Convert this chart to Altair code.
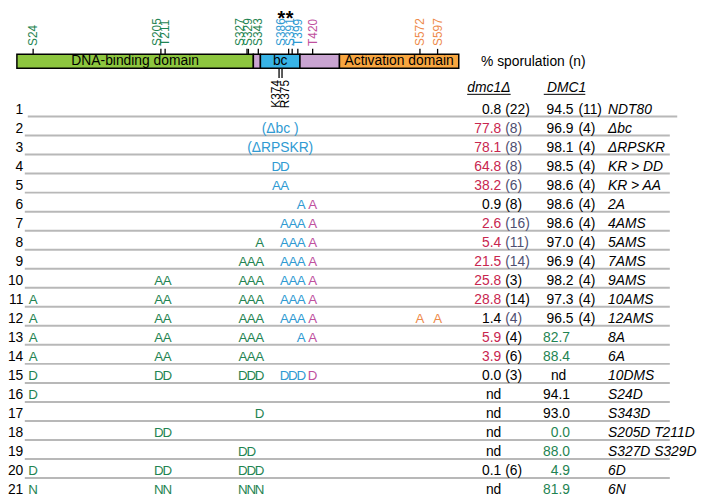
import altair as alt
import pandas as pd
import numpy as np

# ---------------- data ----------------
row_ids = list(range(1, 22))
genotypes = ["NDT80", "Δbc", "ΔRPSKR", "KR > DD", "KR > AA", "2A", "4AMS", "5AMS",
             "7AMS", "9AMS", "10AMS", "12AMS", "8A", "6A", "10DMS", "S24D", "S343D",
             "S205D T211D", "S327D S329D", "6D", "6N"]
dmc1_pct = ["0.8", "77.8", "78.1", "64.8", "38.2", "0.9", "2.6", "5.4", "21.5", "25.8", "28.8",
            "1.4", "5.9", "3.9", "0.0", "nd", "nd", "nd", "nd", "0.1", "nd"]
dmc1_n = ["22", "8", "8", "8", "6", "8", "16", "11", "14", "3", "14", "4", "4", "6", "3",
          "", "", "", "", "6", ""]
dmc1_high = [0, 1, 1, 1, 1, 0, 1, 1, 1, 1, 1, 0, 1, 1, 0, 0, 0, 0, 0, 0, 0]
dmc1_n_tone = [0, 1, 1, 1, 1, 0, 1, 1, 1, 0, 0, 1, 0, 0, 0, 0, 0, 0, 0, 0, 0]
DMC1_pct = ["94.5", "96.9", "98.1", "98.5", "98.6", "98.6", "98.6", "97.0", "96.9", "98.2", "97.3",
            "96.5", "82.7", "88.4", "nd", "94.1", "93.0", "0.0", "88.0", "4.9", "81.9"]
DMC1_n = ["11", "4", "4", "4", "4", "4", "4", "4", "4", "4", "4", "4",
          "", "", "", "", "", "", "", "", ""]
DMC1_low = [0, 0, 0, 0, 0, 0, 0, 0, 0, 0, 0, 0, 1, 1, 0, 0, 0, 1, 1, 1, 1]

sites = ["S24", "S205", "T211", "S327", "S329", "S343", "K374", "R375",
         "S386", "S391", "T399", "T420", "S572", "S597"]
site_res = [24, 205, 211, 327, 329, 343, 374, 375, 386, 391, 399, 420, 572, 597]
site_group = [0, 1, 1, 2, 2, 2, 3, 3, 4, 4, 4, 5, 6, 7]
site_region = ["dbd"] * 6 + ["basic"] * 2 + ["bc"] * 3 + ["link"] + ["ad"] * 2
starred = ["S386", "S391"]

# one character per site (order of `sites`), "-" = wild type
mutations = [
    "--------------", "--------------", "--------------",
    "------DD------", "------AA------", "----------AA--",
    "--------AAAA--", "-----A--AAAA--", "---AAA--AAAA--",
    "-AAAAA--AAAA--", "AAAAAA--AAAA--", "AAAAAA--AAAAAA",
    "AAAAAA----AA--", "AAAAAA--------", "DDDDDD--DDDD--",
    "D-------------", "-----D--------", "-DD-----------",
    "---DD---------", "DDDDDD--------", "NNNNNN--------",
]
deletion_rows = [2, 3]
deletion_text = ["(Δbc )", "(ΔRPSKR)"]

domain_name = ["DNA-binding domain", "", "bc", "", "Activation domain"]
domain_start = [1, 336, 346, 402, 458]
domain_end = [336, 346, 402, 458, 627]
domain_kind = ["dbd", "link", "bc", "link", "ad"]

# ---------------- styles ----------------
FONT = "Liberation Sans"
TEXT_COL = {"dbd": "#1F8452", "bc": "#2F9AD2", "basic": "#2F9AD2", "link": "#C0509E", "ad": "#EE8A4A"}
FILL_COL = {"dbd": "#8DC63F", "link": "#C9A4D1", "bc": "#38B3E6", "ad": "#F8A640"}
RED = "#C8264F"
SLATE = "#4E4E70"
GREEN_V = "#1F8452"
LINE = "#B8B8B8"
PX_PER_RES = 447 / 626.0
LETTER_GAP = 8.5 / PX_PER_RES
LABEL_GAP = 8.3 / PX_PER_RES

X = alt.Scale(domain=[1, 627], range=[9, 456])
Y = alt.Scale(domain=[1, 21], range=[100, 485])

# ---------------- tables ----------------
rows = pd.DataFrame({
    "row": row_ids, "geno": genotypes,
    "d_pct": dmc1_pct, "d_n": dmc1_n, "d_hi": dmc1_high, "d_tone": dmc1_n_tone,
    "D_pct": DMC1_pct, "D_n": DMC1_n, "D_lo": DMC1_low,
})
rows["d_col"] = np.where(rows.d_hi == 1, RED, "black")
rows["d_ncol"] = np.where(rows.d_tone == 1, SLATE, "black")
rows["d_ntxt"] = [f"({s})" if s else "" for s in rows.d_n]
rows["D_col"] = np.where(rows.D_lo == 1, GREEN_V, "black")
rows["D_ntxt"] = [f"({s})" if s else "" for s in rows.D_n]
rows["D_kind"] = ["n" if n else ("nd" if p == "nd" else "v") for p, n in zip(rows.D_pct, rows.D_n)]

lines = pd.DataFrame({"row": row_ids[:-1]})
lines["yl"] = lines.row + 0.36

site_df = pd.DataFrame({"site": sites, "res": site_res, "group": site_group, "region": site_region})
site_df["tcol"] = site_df.region.map(TEXT_COL)
site_df["star"] = site_df.site.isin(starred)

# label positions: keep rotated labels from overlapping (right to left)
top = site_df[site_df.region != "basic"].copy().reset_index(drop=True)
lab = list(top.res.astype(float))
for i in range(len(lab) - 2, -1, -1):
    lab[i] = min(lab[i], lab[i + 1] - LABEL_GAP)
top["lab"] = lab

basic = site_df[site_df.region == "basic"].copy().reset_index(drop=True)
ctr = basic.res.mean()
basic["tick"] = ctr + (basic.index - 0.5) * (3.0 / PX_PER_RES)
basic["lab"] = ctr + (basic.index - 0.5) * (9.4 / PX_PER_RES)

# mutation letters
gsize = site_df.groupby("group").res.transform("size")
gmean = site_df.groupby("group").res.transform("mean")
slot = site_df.groupby("group").cumcount()
site_df["lx"] = gmean + (slot - (gsize - 1) / 2) * LETTER_GAP
recs = []
for r, s in zip(row_ids, mutations):
    for i, ch in enumerate(s):
        if ch != "-":
            recs.append({"row": r, "letter": ch, "x": site_df.lx[i], "col": site_df.tcol[i]})
letters = pd.DataFrame(recs)

dels = pd.DataFrame({"row": deletion_rows, "txt": deletion_text})
dels["x"] = (domain_start[2] + domain_end[2]) / 2

dom = pd.DataFrame({"name": domain_name, "start": domain_start, "end": domain_end, "kind": domain_kind})
dom["fill"] = dom.kind.map(FILL_COL)
dom["mid"] = (dom.start + dom.end) / 2

# ---------------- marks ----------------
def yrow():
    return alt.Y("row:Q", scale=Y, axis=None)

sep_first = alt.Chart(lines[lines.row == 1]).mark_rule(color=LINE, strokeWidth=2).encode(
    x=alt.value(20), x2=alt.value(677), y=alt.Y("yl:Q", scale=Y, axis=None))
sep_rest = alt.Chart(lines[lines.row > 1]).mark_rule(color=LINE, strokeWidth=2).encode(
    x=alt.value(17), x2=alt.value(669.5), y=alt.Y("yl:Q", scale=Y, axis=None))

bar = alt.Chart(dom).mark_rect(stroke="black", strokeWidth=1.5).encode(
    x=alt.X("start:Q", scale=X, axis=None), x2="end:Q",
    y=alt.value(44), y2=alt.value(58),
    fill=alt.Fill("fill:N", scale=None))
bar_txt = alt.Chart(dom[dom.name != ""]).mark_text(font=FONT, fontSize=14, color="black").encode(
    x=alt.X("mid:Q", scale=X), y=alt.value(51), text="name:N")

ticks = alt.Chart(top).mark_rule(color="black", strokeWidth=1.3).encode(
    x=alt.X("res:Q", scale=X), y=alt.value(38.5), y2=alt.value(44))
tick_lab = alt.Chart(top).mark_text(font=FONT, fontSize=12, angle=270, align="left",
                                    baseline="middle").encode(
    x=alt.X("lab:Q", scale=X), y=alt.value(35.5), text="site:N",
    color=alt.Color("tcol:N", scale=None))
stars = alt.Chart(top[top.star]).mark_text(font=FONT, fontSize=20, fontWeight="bold",
                                           baseline="alphabetic", color="black").encode(
    x=alt.X("lab:Q", scale=X), y=alt.value(14.5), text=alt.value("*"))

bticks = alt.Chart(basic).mark_rule(color="black", strokeWidth=1.3).encode(
    x=alt.X("tick:Q", scale=X), y=alt.value(58), y2=alt.value(68))
blab = alt.Chart(basic).mark_text(font=FONT, fontSize=12, angle=270, align="right",
                                  baseline="middle", color="black").encode(
    x=alt.X("lab:Q", scale=X), y=alt.value(70), text="site:N")

hdr = pd.DataFrame({"t": ["% sporulation (n)"]})
h1 = alt.Chart(hdr).mark_text(font=FONT, fontSize=14, align="left", color="black").encode(
    x=alt.value(478.5), y=alt.value(52), text="t:N")
h2 = alt.Chart(pd.DataFrame({"t": ["dmc1Δ"]})).mark_text(
    font=FONT, fontSize=14, fontStyle="italic", color="black").encode(
    x=alt.value(486.5), y=alt.value(78), text="t:N")
h3 = alt.Chart(pd.DataFrame({"t": ["DMC1"]})).mark_text(
    font=FONT, fontSize=14, fontStyle="italic", color="black").encode(
    x=alt.value(565), y=alt.value(78), text="t:N")
ul1 = alt.Chart(hdr).mark_rule(color="black", strokeWidth=1).encode(
    x=alt.value(464.5), x2=alt.value(508.5), y=alt.value(84.5))
ul2 = alt.Chart(hdr).mark_rule(color="black", strokeWidth=1).encode(
    x=alt.value(542), x2=alt.value(584), y=alt.value(84.5))

rnum = alt.Chart(rows).mark_text(font=FONT, fontSize=14, align="right", color="black").encode(
    x=alt.value(15.5), y=yrow(), text="row:N")

let = alt.Chart(letters).mark_text(font=FONT, fontSize=13.5).encode(
    x=alt.X("x:Q", scale=X), y=yrow(), text="letter:N", color=alt.Color("col:N", scale=None))
dl = alt.Chart(dels).mark_text(font=FONT, fontSize=14, color=TEXT_COL["bc"]).encode(
    x=alt.X("x:Q", scale=X), y=yrow(), text="txt:N")

dval = alt.Chart(rows).mark_text(font=FONT, fontSize=14, align="right").encode(
    x=alt.value(499), y=yrow(), text="d_pct:N", color=alt.Color("d_col:N", scale=None))
dn = alt.Chart(rows).mark_text(font=FONT, fontSize=14, align="left").encode(
    x=alt.value(503), y=yrow(), text="d_ntxt:N", color=alt.Color("d_ncol:N", scale=None))

Dv1 = alt.Chart(rows).transform_filter("datum.D_kind == 'n'").mark_text(
    font=FONT, fontSize=14, align="right").encode(
    x=alt.value(572), y=yrow(), text="D_pct:N", color=alt.Color("D_col:N", scale=None))
Dv2 = alt.Chart(rows).transform_filter("datum.D_kind == 'v'").mark_text(
    font=FONT, fontSize=14, align="right").encode(
    x=alt.value(568.5), y=yrow(), text="D_pct:N", color=alt.Color("D_col:N", scale=None))
Dv3 = alt.Chart(rows).transform_filter("datum.D_kind == 'nd'").mark_text(
    font=FONT, fontSize=14, align="center").encode(
    x=alt.value(557), y=yrow(), text="D_pct:N", color=alt.Color("D_col:N", scale=None))
Dn = alt.Chart(rows).mark_text(font=FONT, fontSize=14, align="left", color="black").encode(
    x=alt.value(577), y=yrow(), text="D_ntxt:N")

geno = alt.Chart(rows).mark_text(font=FONT, fontSize=14, align="left", fontStyle="italic",
                                 color="black").encode(
    x=alt.value(607), y=yrow(), text="geno:N")

chart = alt.layer(
    sep_first, sep_rest, bar, bar_txt, ticks, tick_lab, stars, bticks, blab,
    h1, h2, h3, ul1, ul2, rnum, let, dl, dval, dn, Dv1, Dv2, Dv3, Dn, geno
).properties(
    width=697, height=488, padding=0, autosize=alt.AutoSizeParams(type="none"),
    background="white"
).configure_view(stroke=None)

chart.save("out.html", embed_options={"renderer": "svg", "actions": False})
